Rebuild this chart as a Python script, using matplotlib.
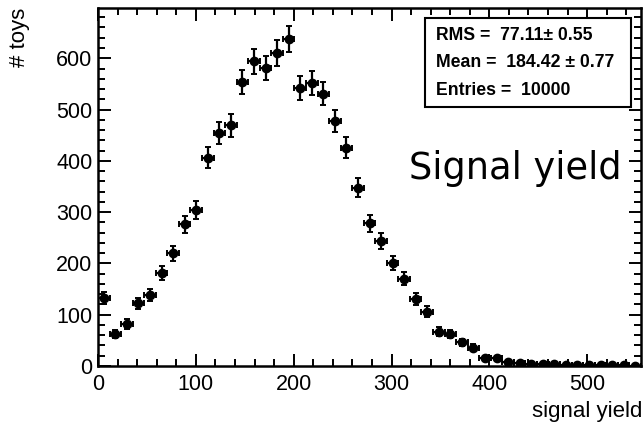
import numpy as np
import matplotlib
matplotlib.use("Agg")
import matplotlib.pyplot as plt
from matplotlib.ticker import MultipleLocator

# Histogram of fitted signal yields from toy experiments
x_min, x_max = 0.0, 555.0
n_bins = 47
counts = [132, 62, 82, 122, 138, 181, 220, 276, 304,
          406, 455, 469, 553, 594, 581, 610, 638,
          542, 552, 531, 478, 426, 348,
          278, 243, 201, 170, 130, 106, 67, 62, 46, 36,
          16, 15, 8, 6, 4, 3, 3, 2, 2, 1, 1, 1, 1, 0]
stats_lines = ["RMS =  77.11\u00b1 0.55",
               "Mean =  184.42 \u00b1 0.77",
               "Entries =  10000"]
x_label = "signal yield"
y_label = "# toys"
title_text = "Signal yield"

edges = np.linspace(x_min, x_max, n_bins + 1)
centers = 0.5 * (edges[:-1] + edges[1:])
half_w = 0.5 * (edges[1] - edges[0])
counts = np.array(counts, dtype=float)
y_err = np.sqrt(counts)

plt.rcParams['font.family'] = ['Liberation Sans', 'DejaVu Sans']

W, H = 644, 428
fig = plt.figure(figsize=(W / 100, H / 100), dpi=100)
ax = fig.add_axes([98 / W, 1 - 366 / H, (641 - 98) / W, (366 - 8) / H])

ax.errorbar(centers, counts, xerr=half_w, yerr=y_err, fmt='o', color='black',
            markersize=6, elinewidth=1.6, capsize=2.2, capthick=1.4)

ax.set_xlim(x_min, x_max)
ax.set_ylim(0, 698)

ax.xaxis.set_major_locator(MultipleLocator(100))
ax.xaxis.set_minor_locator(MultipleLocator(20))
ax.yaxis.set_major_locator(MultipleLocator(100))
ax.yaxis.set_minor_locator(MultipleLocator(20))
ax.tick_params(which='both', direction='in', top=True, right=True, width=1.4,
               labelsize=15.5)
ax.tick_params(which='major', length=9)
ax.tick_params(which='minor', length=5)
ax.tick_params(axis='x', pad=6)
ax.tick_params(axis='y', pad=4)
for sp in ax.spines.values():
    sp.set_linewidth(1.8)

fig.text(642 / W, 1 - 411 / H, x_label, ha='right', va='center', fontsize=16)
fig.text(20 / W, 1 - 8 / H, y_label, ha='center', va='top', rotation=90,
         fontsize=16)

# statistics box
box_l, box_r = 425 / W, 630.5 / W
box_t, box_b = 1 - 18.3 / H, 1 - 106.7 / H
fig.patches.append(plt.Rectangle((box_l, box_b), box_r - box_l, box_t - box_b,
                                 transform=fig.transFigure, fill=True,
                                 facecolor='white', edgecolor='black', lw=1.5))
for i, yy in enumerate([35, 62.7, 90.7]):
    fig.text(436 / W, 1 - yy / H, stats_lines[i], ha='left', va='center',
             fontsize=12.7, fontweight='bold')

fig.text(622 / W, 1 - 179.3 / H, title_text, ha='right', va='baseline',
         fontsize=26.5, family=['DejaVu Sans'])

fig.savefig("out.png", dpi=100)
